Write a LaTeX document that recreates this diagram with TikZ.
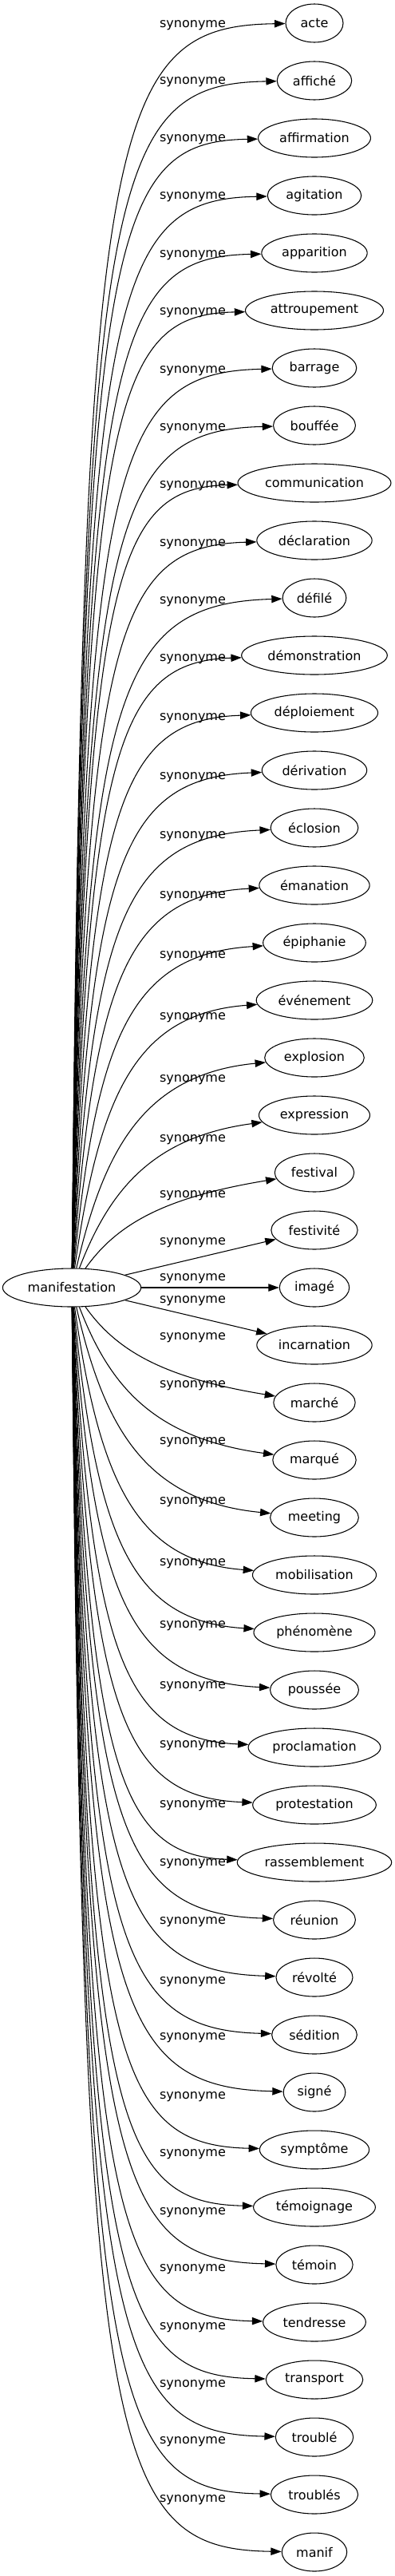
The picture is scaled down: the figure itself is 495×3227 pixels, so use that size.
\documentclass[tikz,border=0pt]{standalone}
\usepackage{fontspec}
\setmainfont{DejaVu Sans}
\usetikzlibrary{arrows.meta,shapes.geometric}

\begin{document}
\begin{tikzpicture}[x=0.75pt,y=-0.75pt,font=\fontsize{12}{14}\selectfont,line width=0.8pt,>={Triangle[length=10pt,width=7pt]},word/.style={draw, ellipse, fill=white, minimum width=54pt, minimum height=36pt, inner xsep=4.5pt, inner ysep=0pt},rel/.style={inner sep=0pt}]
\useasboundingbox (0,0) rectangle (495,3227);
\node[word] (manifestation) at (90,1613) {manifestation};
\foreach \w/\off [count=\i from 0] in {acte/3,affiché/2,affirmation/2,agitation/2,apparition/3,attroupement/3,barrage/4,bouffée/4,communication/4,déclaration/5,défilé/5,démonstration/5,déploiement/7,dérivation/9,éclosion/11,émanation/14,épiphanie/17,événement/22,explosion/28,expression/31,festival/29,festivité/16,imagé/-11,incarnation/-55,marché/-81,marqué/-93,meeting/-94,mobilisation/-91,phénomène/-86,poussée/-80,proclamation/-76,protestation/-74,rassemblement/-71,réunion/-70,révolté/-69,sédition/-66,signé/-68,symptôme/-66,témoignage/-66,témoin/-65,tendresse/-66,transport/-65,troublé/-65,troublés/-66,manif/-65}{
  \pgfmathsetmacro\yt{29+72*\i}
  \pgfmathsetmacro\dy{abs(\yt-1613)}
  \node[word] (syn\i) at (394,\yt) {\w};
  \node[rel] at (241.5,\yt+\off) {synonyme};
  \ifdim\dy pt<100pt
    \draw[->] (manifestation) -- (syn\i);
  \else
    % bend of the fan: steep near the root, flat near the word
    \pgfmathsetmacro\sg{sign(\yt-1613)}
    \pgfmathsetmacro\pax{95+150/(\dy+150)*100}
    \pgfmathsetmacro\pay{\yt-\sg*min(120,0.45*\dy)}
    \pgfmathsetmacro\pbx{120+250/(\dy+150)*100}
    \pgfmathsetmacro\pby{\yt-\sg*min(31,6000/\dy)}
    \draw[->] (manifestation) .. controls (\pax,\pay) and (\pbx,\pby) .. (syn\i);
  \fi
}
\end{tikzpicture}
\end{document}
